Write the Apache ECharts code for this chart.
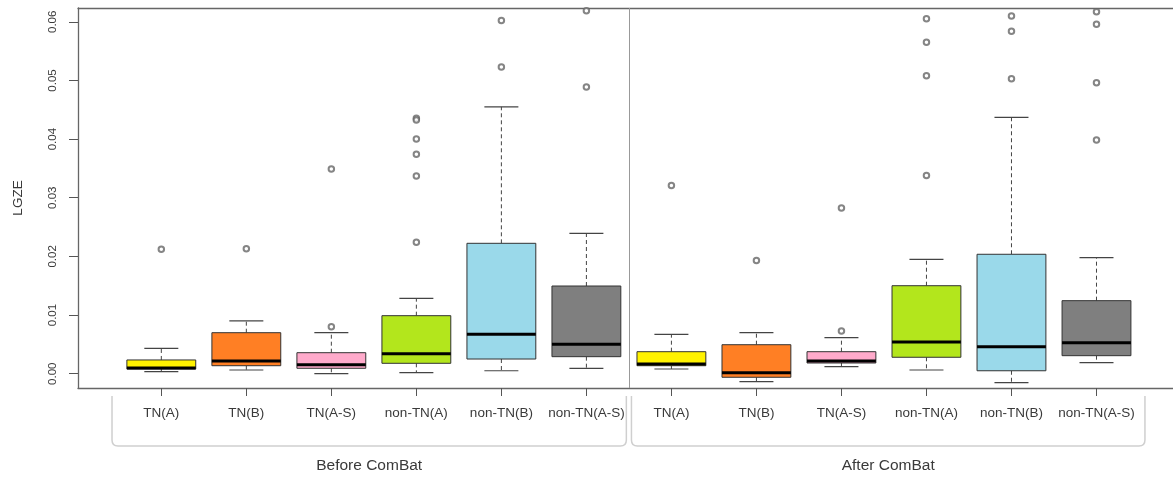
<!DOCTYPE html>
<html>
<head>
<meta charset="utf-8">
<script src="https://cdn.jsdelivr.net/npm/echarts@6/dist/echarts.min.js"></script>
<style>html,body{margin:0;padding:0;background:#fff}#c{width:1173px;height:479px}</style>
</head>
<body>
<div id="c"></div>
<script>
const categories = ['TN(A)', 'TN(B)', 'TN(A-S)', 'non-TN(A)', 'non-TN(B)', 'non-TN(A-S)'];
const groups = ['Before ComBat', 'After ComBat'];
const yTicks = [0, 0.01, 0.02, 0.03, 0.04, 0.05, 0.06];
const boxColors = ['#FFF200', '#FF7F24', '#FFAACB', '#B3E61C', '#9AD9EA', '#7F7F7F'];

// [lower whisker, Q1, median, Q3, upper whisker]
const beforeStats = [
  [0.00034, 0.00080, 0.00097, 0.00234, 0.00433],
  [0.00063, 0.00136, 0.00217, 0.00699, 0.00899],
  [0.00000, 0.00092, 0.00153, 0.00358, 0.00700],
  [0.00017, 0.00177, 0.00341, 0.00989, 0.01285],
  [0.00050, 0.00250, 0.00671, 0.02223, 0.04550],
  [0.00092, 0.00290, 0.00500, 0.01495, 0.02394]
];
const afterStats = [
  [0.00080, 0.00136, 0.00165, 0.00375, 0.00670],
  [-0.00136, -0.00061, 0.00017, 0.00494, 0.00700],
  [0.00120, 0.00182, 0.00217, 0.00375, 0.00614],
  [0.00063, 0.00280, 0.00540, 0.01500, 0.01950],
  [-0.00153, 0.00050, 0.00460, 0.02036, 0.04370],
  [0.00188, 0.00307, 0.00529, 0.01245, 0.01980]
];
const beforeOutliers = [
  [0.0212],
  [0.0213],
  [0.0349, 0.0080],
  [0.04355, 0.04326, 0.0400, 0.0374, 0.0337, 0.0224],
  [0.0602, 0.0523],
  [0.0619, 0.0489]
];
const afterOutliers = [
  [0.0321],
  [0.0193],
  [0.02825, 0.00728],
  [0.0605, 0.0565, 0.0508, 0.0338],
  [0.0610, 0.0584, 0.0503],
  [0.0617, 0.0596, 0.0496, 0.03985]
];
// bracket spans under each group (x in axis units)
const groupSpans = [[0.42, 6.47], [6.53, 12.57]];
const dividerX = 6.5;

const n = categories.length;
const boxData = [];
const outlierData = [];
[beforeStats, afterStats].forEach((stats, g) => {
  stats.forEach((s, i) => {
    boxData.push([g * n + i + 1].concat(s).concat([i]));
  });
});
[beforeOutliers, afterOutliers].forEach((outs, g) => {
  outs.forEach((arr, i) => {
    arr.forEach(v => outlierData.push([g * n + i + 1, v]));
  });
});
const positions = boxData.map(d => d[0]);

const chart = echarts.init(document.getElementById('c'));
const textColor = '#3a3a3a';
const frameColor = '#666';
const font = 'Liberation Sans, Arial, sans-serif';
const xMin = 0.02, xMax = 12.9, yMin = -0.00244, yMax = 0.06235;

chart.setOption({
  backgroundColor: '#fff',
  animation: false,
  grid: {left: 78, right: 0, top: 8, bottom: 91, show: false},
  xAxis: [{
    type: 'value', min: xMin, max: xMax,
    axisLine: {show: true, onZero: false, lineStyle: {color: frameColor, width: 1.3}},
    axisTick: {show: true, length: 8, customValues: positions, lineStyle: {color: '#555'}},
    axisLabel: {
      show: true, customValues: positions, margin: 18,
      fontFamily: font, fontSize: 13.5, color: textColor,
      formatter: v => categories[(Math.round(v) - 1) % n]
    },
    splitLine: {show: false}
  }, {
    type: 'value', position: 'top', min: xMin, max: xMax,
    axisLine: {show: true, onZero: false, lineStyle: {color: frameColor, width: 1.3}},
    axisTick: {show: false}, axisLabel: {show: false}, splitLine: {show: false}
  }],
  yAxis: {
    type: 'value', min: yMin, max: yMax,
    name: 'LGZE', nameLocation: 'middle', nameRotate: 90, nameGap: 53,
    nameTextStyle: {fontFamily: font, fontSize: 13.5, color: textColor},
    axisLine: {show: true, onZero: false, lineStyle: {color: frameColor, width: 1.3}},
    axisTick: {show: true, length: 9, customValues: yTicks, lineStyle: {color: '#555'}},
    axisLabel: {
      show: true, customValues: yTicks, rotate: 90, margin: 19,
      fontFamily: font, fontSize: 11.5, color: textColor,
      formatter: v => v.toFixed(2)
    },
    splitLine: {show: false}
  },
  series: [
    {
      type: 'custom',
      name: 'boxes',
      data: boxData,
      clip: false,
      z: 3,
      renderItem: function (params, api) {
        const x = api.value(0);
        const lo = api.coord([x, api.value(1)]);
        const q1 = api.coord([x, api.value(2)]);
        const md = api.coord([x, api.value(3)]);
        const q3 = api.coord([x, api.value(4)]);
        const hi = api.coord([x, api.value(5)]);
        const ci = api.value(6);
        const unit = api.size([1, 0])[0];
        const bw = unit * 0.81;
        const cw = unit * 0.4;
        const cx = lo[0];
        const dash = {stroke: '#444', lineWidth: 1, lineDash: [4, 3]};
        const solid = {stroke: '#444', lineWidth: 1.2};
        return {
          type: 'group',
          children: [
            {type: 'line', shape: {x1: cx, y1: q3[1], x2: cx, y2: hi[1]}, style: dash},
            {type: 'line', shape: {x1: cx, y1: q1[1], x2: cx, y2: lo[1]}, style: dash},
            {type: 'line', shape: {x1: cx - cw / 2, y1: hi[1], x2: cx + cw / 2, y2: hi[1]}, style: solid},
            {type: 'line', shape: {x1: cx - cw / 2, y1: lo[1], x2: cx + cw / 2, y2: lo[1]}, style: solid},
            {type: 'rect', shape: {x: cx - bw / 2, y: q3[1], width: bw, height: q1[1] - q3[1]},
              style: {fill: boxColors[ci], stroke: '#333', lineWidth: 1}},
            {type: 'line', shape: {x1: cx - bw / 2, y1: md[1], x2: cx + bw / 2, y2: md[1]},
              style: {stroke: '#000', lineWidth: 3}}
          ]
        };
      }
    },
    {
      type: 'scatter',
      name: 'outliers',
      data: outlierData,
      symbol: 'emptyCircle',
      symbolSize: 5.5,
      clip: false,
      z: 4,
      itemStyle: {color: '#666', borderWidth: 0.9},
      markLine: {
        silent: true, symbol: 'none', animation: false,
        label: {show: false},
        lineStyle: {color: '#999', width: 1, type: 'solid'},
        data: [{xAxis: dividerX}]
      }
    },
    {
      type: 'custom',
      name: 'brackets',
      data: groupSpans.map((s, g) => [s[0], s[1], g]),
      clip: false,
      silent: true,
      renderItem: function (params, api) {
        const a = api.coord([api.value(0), yMin]);
        const b = api.coord([api.value(1), yMin]);
        const top = a[1] + 8, bot = a[1] + 58, r = 6;
        const x1 = a[0], x2 = b[0];
        const path = 'M' + x1 + ',' + top + ' L' + x1 + ',' + (bot - r) +
          ' Q' + x1 + ',' + bot + ' ' + (x1 + r) + ',' + bot +
          ' L' + (x2 - r) + ',' + bot + ' Q' + x2 + ',' + bot + ' ' + x2 + ',' + (bot - r) +
          ' L' + x2 + ',' + top;
        return {
          type: 'group',
          children: [
            {type: 'path', shape: {pathData: path}, style: {fill: 'none', stroke: '#cfcfcf', lineWidth: 1.5}},
            {type: 'text', x: (x1 + x2) / 2, y: a[1] + 78,
              style: {text: groups[api.value(2)], fill: textColor, fontSize: 15.5,
                fontFamily: font, align: 'center', verticalAlign: 'middle'}}
          ]
        };
      }
    }
  ]
});
</script>
</body>
</html>
